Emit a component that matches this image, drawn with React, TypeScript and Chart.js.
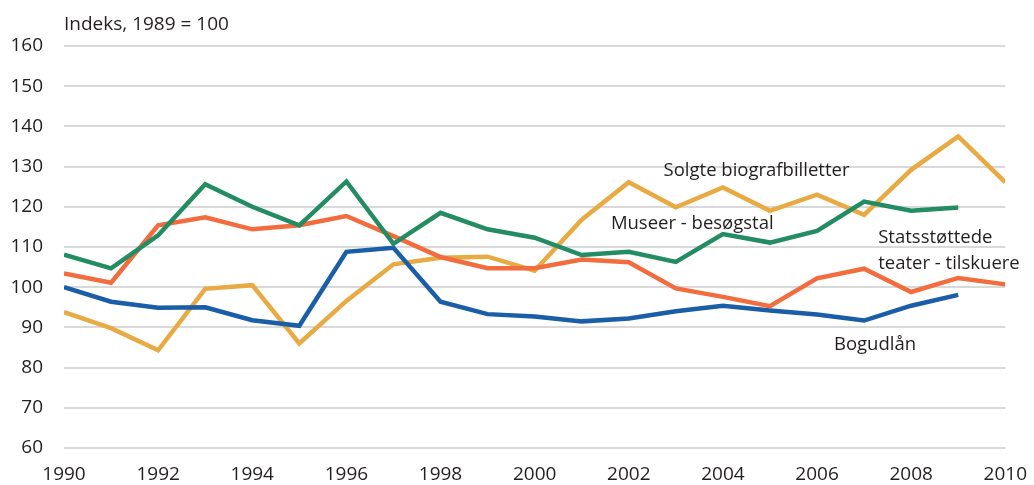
import React, { useEffect, useRef } from "react";
import { Chart, registerables } from "chart.js";

Chart.register(...registerables);

const years = [1990, 1991, 1992, 1993, 1994, 1995, 1996, 1997, 1998, 1999, 2000, 2001, 2002, 2003, 2004, 2005, 2006, 2007, 2008, 2009, 2010];
const museer = [108.1, 104.7, 112.9, 125.6, 120.0, 115.4, 126.3, 110.8, 118.5, 114.4, 112.3, 108.0, 108.8, 106.3, 113.2, 111.1, 114.0, 121.3, 119.0, 119.8, null];
const teater = [103.4, 101.1, 115.4, 117.4, 114.4, 115.4, 117.7, 112.7, 107.5, 104.7, 104.7, 106.9, 106.2, 99.7, 97.6, 95.3, 102.2, 104.6, 98.8, 102.3, 100.7];
const bogudlaan = [100.0, 96.4, 94.9, 95.0, 91.8, 90.4, 108.8, 109.8, 96.4, 93.3, 92.7, 91.5, 92.2, 94.0, 95.4, 94.2, 93.2, 91.7, 95.4, 98.1, null];
const biograf = [93.8, 89.8, 84.3, 99.6, 100.5, 86.0, 96.6, 105.7, 107.3, 107.6, 104.1, 116.8, 126.1, 119.9, 124.8, 119.0, 123.0, 118.0, 129.2, 137.5, 126.1];

const yTitle = "Indeks, 1989 = 100";
const seriesNames = ["Museer - besøgstal", "Statsstøttede teater - tilskuere", "Bogudlån", "Solgte biografbilletter"];

const FONT = "'Open Sans', sans-serif";
const TEXT = "#231f20";

const toPts = (vals: (number | null)[]) => years.map((x, i) => ({ x, y: vals[i] }));

const labelPlugin = {
  id: "labels",
  afterDraw(chart: any) {
    const { ctx, scales } = chart;
    const xs = scales.x;
    const ys = scales.y;
    ctx.save();
    ctx.fillStyle = TEXT;
    ctx.textBaseline = "middle";
    ctx.textAlign = "left";
    ctx.font = `19px ${FONT}`;
    ctx.fillText(yTitle, chart.chartArea.left, 25);
    ctx.font = `18.5px ${FONT}`;
    const place = (t: string, xv: number, yv: number) => ctx.fillText(t, xs.getPixelForValue(xv), ys.getPixelForValue(yv));
    place("Solgte biografbilletter", 2002.74, 128.9);
    place("Museer - besøgstal", 2001.62, 115.9);
    place("Statsstøttede", 2007.3, 112.4);
    place("teater - tilskuere", 2007.3, 105.9);
    place("Bogudlån", 2006.36, 85.6);
    ctx.restore();
  },
};

export default function App() {
  const ref = useRef<HTMLCanvasElement>(null);
  useEffect(() => {
    document.body.style.margin = "0";
    const chart = new Chart(ref.current!, {
      type: "line",
      data: {
        datasets: [
          { label: seriesNames[0], data: toPts(museer), borderColor: "#238c62", borderWidth: 4.5, pointRadius: 0, spanGaps: false },
          { label: seriesNames[1], data: toPts(teater), borderColor: "#f26c3d", borderWidth: 4.5, pointRadius: 0 },
          { label: seriesNames[2], data: toPts(bogudlaan), borderColor: "#1a5ea8", borderWidth: 4.5, pointRadius: 0 },
          { label: seriesNames[3], data: toPts(biograf), borderColor: "#e8aa42", borderWidth: 4.5, pointRadius: 0 },
        ],
      },
      options: {
        animation: false,
        responsive: false,
        layout: { padding: { top: 46, right: 24, left: 0, bottom: 0 } },
        plugins: { legend: { display: false }, tooltip: { enabled: false }, title: { display: false } },
        elements: { line: { tension: 0, borderJoinStyle: "miter" } },
        scales: {
          x: {
            type: "linear",
            min: 1990,
            max: 2010,
            afterFit: (s: any) => { s.height = 37; },
            grid: { display: false },
            border: { display: false },
            ticks: { stepSize: 2, autoSkip: false, maxRotation: 0, padding: 7, color: TEXT, font: { family: FONT, size: 19 }, callback: (v: any) => String(v) },
          },
          y: {
            min: 60,
            max: 160,
            afterFit: (s: any) => { s.width = 64; },
            grid: { color: "#d9d9d9", lineWidth: 2, drawTicks: false },
            border: { display: false },
            ticks: { stepSize: 10, padding: 21, color: TEXT, font: { family: FONT, size: 19 } },
          },
        },
      },
      plugins: [labelPlugin],
    });
    return () => chart.destroy();
  }, []);
  return (
    <div style={{ width: 1034, height: 485 }}>
      <canvas ref={ref} width={1034} height={485} />
    </div>
  );
}
